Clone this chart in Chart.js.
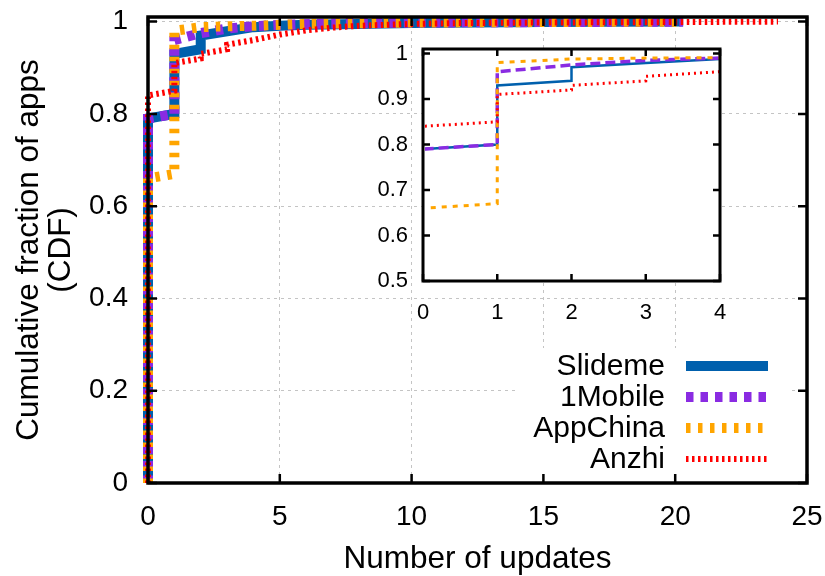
<!DOCTYPE html>
<html>
<head>
<meta charset="utf-8">
<script src="https://cdn.jsdelivr.net/npm/chart.js@4.4.0/dist/chart.umd.min.js"></script>
<style>
  body { margin: 0; background: #fff; }
  #wrap { position: relative; width: 825px; height: 576px; }
  #inset { position: absolute; left: 340px; top: 30px; }
</style>
</head>
<body>
<div id="wrap">
  <canvas id="mainChart" width="825" height="576"></canvas>
  <canvas id="inset" width="400" height="310"></canvas>
</div>
<script>
// CDF data (x = number of updates, y = fraction of apps)
const seriesNames = ['Slideme', '1Mobile', 'AppChina', 'Anzhi'];

const slidemeX = [0, 0, 1, 1, 2, 2, 3, 4, 5, 6, 8, 10, 15, 20.3];
const slidemeY = [0, 0.79, 0.80, 0.93, 0.94, 0.97, 0.979, 0.988, 0.991, 0.993, 0.995, 0.997, 0.999, 1.0];

const mobileX = [0, 0, 1, 1, 2, 3, 4, 5, 7, 10, 15, 20.3];
const mobileY = [0, 0.79, 0.80, 0.96, 0.975, 0.985, 0.99, 0.993, 0.996, 0.998, 0.999, 1.0];

const appChinaX = [0, 0, 1, 1, 2, 3, 4, 6, 10, 15, 20.3];
const appChinaY = [0, 0.66, 0.67, 0.98, 0.988, 0.99, 0.991, 0.995, 0.998, 0.999, 1.0];

const anzhiX = [0, 0, 1, 1, 2, 2, 3, 3, 4, 5, 6, 7, 8, 10, 12, 15, 20, 23.9];
const anzhiY = [0, 0.84, 0.85, 0.91, 0.92, 0.93, 0.94, 0.95, 0.96, 0.972, 0.981, 0.987, 0.991, 0.995, 0.997, 0.998, 0.999, 1.0];

// tick labels
const mainXTicks = [0, 5, 10, 15, 20, 25];
const mainYTicks = [0, 0.2, 0.4, 0.6, 0.8, 1];
const insetXTicks = [0, 1, 2, 3, 4];
const insetYTicks = [0.5, 0.6, 0.7, 0.8, 0.9, 1];

const colors = ['#0060ad', '#8a2be2', '#ffa500', '#ff0000'];

Chart.defaults.font.family = '"Liberation Sans", Arial, sans-serif';
Chart.defaults.color = '#000';

function toPoints(xs, ys) {
  return xs.map((x, i) => ({ x: x, y: ys[i] }));
}
const allX = [slidemeX, mobileX, appChinaX, anzhiX];
const allY = [slidemeY, mobileY, appChinaY, anzhiY];

// styles: [width, dash] for the big chart and for the inset
const mainStyle = [[10, []], [10, [7.5, 7]], [10, [4.5, 7.5]], [6, [2.5, 3.5]]];
const insetStyle = [[2.5, []], [3.5, [10, 5]], [3, [5, 6]], [3, [2, 4]]];

function makeDatasets(style, clip) {
  return seriesNames.map((name, i) => ({
    label: name,
    data: toPoints(allX[i], allY[i]),
    borderColor: colors[i],
    borderWidth: style[i][0],
    borderDash: style[i][1],
    borderCapStyle: 'butt',
    pointRadius: 0,
    tension: 0,
    fill: false,
    clip: clip,
    order: 4 - i   // later series drawn on top, like gnuplot
  }));
}

// label overhang should not move the plot area
function noPad(s) {
  s.paddingTop = 0; s.paddingBottom = 0; s.paddingLeft = 0; s.paddingRight = 0;
}

// black box and inward ticks on all four sides
const framePlugin = {
  id: 'frame',
  afterDatasetsDraw(chart, args, opts) {
    const { ctx, chartArea: a, scales: { x, y } } = chart;
    ctx.save();
    ctx.strokeStyle = '#000';
    ctx.lineWidth = opts.tickWidth;
    ctx.beginPath();
    x.ticks.forEach(t => {
      const px = x.getPixelForValue(t.value);
      ctx.moveTo(px, a.bottom); ctx.lineTo(px, a.bottom - opts.len);
      ctx.moveTo(px, a.top); ctx.lineTo(px, a.top + opts.len);
    });
    y.ticks.forEach(t => {
      const py = y.getPixelForValue(t.value);
      ctx.moveTo(a.left, py); ctx.lineTo(a.left + opts.len, py);
      ctx.moveTo(a.right, py); ctx.lineTo(a.right - opts.len, py);
    });
    ctx.stroke();
    ctx.lineWidth = opts.width;
    ctx.strokeRect(a.left, a.top, a.width, a.height);
    ctx.restore();
  }
};

// key in the lower right: text, then a sample of the line
const keyPlugin = {
  id: 'key',
  afterDraw(chart, args, opts) {
    if (!opts.show) return;
    const ctx = chart.ctx;
    ctx.save();
    ctx.fillStyle = '#fff';
    ctx.fillRect(opts.box[0], opts.box[1], opts.box[2], opts.box[3]);
    ctx.font = '30px "Liberation Sans", Arial, sans-serif';
    ctx.textAlign = 'right';
    ctx.textBaseline = 'middle';
    chart.data.datasets.forEach((ds, i) => {
      const yy = opts.top + i * opts.step;
      ctx.fillStyle = '#000';
      ctx.fillText(ds.label, opts.textRight, yy + 1);
      ctx.strokeStyle = ds.borderColor;
      ctx.lineWidth = ds.borderWidth;
      ctx.setLineDash(ds.borderDash);
      ctx.lineCap = 'butt';
      ctx.beginPath();
      ctx.moveTo(opts.lineFrom, yy);
      ctx.lineTo(opts.lineTo, yy);
      ctx.stroke();
    });
    ctx.restore();
  }
};

// white plot area for the inset
const whiteArea = {
  id: 'whiteArea',
  beforeDraw(chart) {
    const { ctx, chartArea: a } = chart;
    ctx.save();
    ctx.fillStyle = '#fff';
    ctx.fillRect(a.left, a.top, a.width, a.height);
    ctx.restore();
  }
};

new Chart(document.getElementById('mainChart').getContext('2d'), {
  type: 'line',
  data: { datasets: makeDatasets(mainStyle, false) },
  plugins: [framePlugin, keyPlugin],
  options: {
    responsive: false,
    animation: false,
    layout: { padding: { left: 0, right: 18, top: 17, bottom: 0 } },
    plugins: {
      legend: { display: false },
      tooltip: { enabled: false },
      frame: { width: 3.5, tickWidth: 2.5, len: 9 },
      key: { show: true, box: [517, 348, 273, 126], top: 366, step: 31, textRight: 665, lineFrom: 686, lineTo: 768 }
    },
    scales: {
      x: {
        type: 'linear', min: 0, max: 25,
        afterBuildTicks: s => { s.ticks = mainXTicks.map(v => ({ value: v })); },
        afterFit: s => { s.height = 93; noPad(s); },
        ticks: { padding: 17, font: { size: 28 }, maxRotation: 0, callback: v => String(v) },
        grid: { color: '#c4c4c4', lineWidth: 1, drawTicks: false },
        border: { display: false, dash: [3, 4] },
        title: { display: true, text: 'Number of updates', font: { size: 31.5, lineHeight: 1.0 }, padding: { top: 0, bottom: 1 } }
      },
      y: {
        type: 'linear', min: 0, max: 1.01,
        afterBuildTicks: s => { s.ticks = mainYTicks.map(v => ({ value: v })); },
        afterFit: s => { s.width = 148; noPad(s); },
        ticks: { padding: 20, font: { size: 28 }, callback: v => String(v) },
        grid: { color: '#c4c4c4', lineWidth: 1, drawTicks: false },
        border: { display: false, dash: [3, 4] },
        title: {
          display: true,
          text: ['Cumulative fraction of apps', '(CDF)'],
          font: { size: 31.5, lineHeight: 1.02 },
          padding: { top: 13, bottom: 0 }
        }
      }
    }
  }
});

// zoomed inset, x 0..4, y 0.5..1
new Chart(document.getElementById('inset').getContext('2d'), {
  type: 'line',
  data: { datasets: makeDatasets(insetStyle, { left: -2, top: 0, right: 0, bottom: 0 }) },
  plugins: [whiteArea, framePlugin],
  options: {
    responsive: false,
    animation: false,
    layout: { padding: { left: 0, right: 20, top: 19, bottom: 0 } },
    plugins: {
      legend: { display: false },
      tooltip: { enabled: false },
      frame: { width: 3, tickWidth: 2.5, len: 7 }
    },
    scales: {
      x: {
        type: 'linear', min: 0, max: 4,
        afterBuildTicks: s => { s.ticks = insetXTicks.map(v => ({ value: v })); },
        afterFit: s => { s.height = 59; noPad(s); },
        ticks: { padding: 19, font: { size: 22 }, maxRotation: 0, callback: v => String(v) },
        grid: { display: false, drawTicks: false },
        border: { display: false }
      },
      y: {
        type: 'linear', min: 0.5, max: 1.01,
        afterBuildTicks: s => { s.ticks = insetYTicks.map(v => ({ value: v })); },
        afterFit: s => { s.width = 83; noPad(s); },
        ticks: { padding: 15, font: { size: 22 }, callback: v => String(v) },
        grid: { display: false, drawTicks: false },
        border: { display: false }
      }
    }
  }
});
</script>
</body>
</html>
